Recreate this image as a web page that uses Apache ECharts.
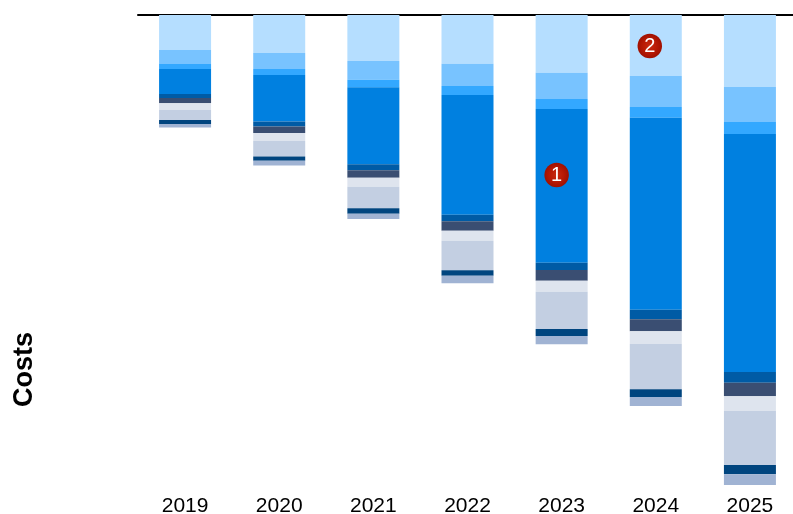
<!DOCTYPE html>
<html>
<head>
<meta charset="utf-8">
<style>html,body{margin:0;padding:0;background:#fff;overflow:hidden}#chart{width:793px;height:514px}</style>
<script src="https://cdn.jsdelivr.net/npm/echarts@6/dist/echarts.min.js"></script>
</head>
<body>
<div id="chart"></div>
<script>
// Annual costs, stacked downward from the top axis
const years = ['2019', '2020', '2021', '2022', '2023', '2024', '2025'];

const costA = [35, 38, 46, 48.7, 57.7, 61, 72];
const costB = [14, 16, 18.7, 22.3, 26.3, 31, 35];
const costC = [5, 6, 7.6, 9, 10, 10.7, 12];
const costD = [25, 46.5, 77, 119.7, 153.7, 192, 238];
const costE = [4, 5, 6, 6.6, 7.3, 9.6, 10.7];
const costF = [5.3, 6.5, 7.4, 9.4, 10.7, 12, 13.6];
const costG = [6.7, 8, 9, 10, 11, 12.7, 14.7];
const costH = [10, 15.5, 21.6, 29.6, 37.3, 45.3, 54];
const costI = [4, 4.2, 5.4, 5.4, 7, 7.7, 9.3];
const costJ = [3.5, 4.8, 5.3, 7.6, 8.3, 9, 11];

const stacks = [
  ['Cost A', costA, '#b5deff'],
  ['Cost B', costB, '#78c3ff'],
  ['Cost C', costC, '#33a8ff'],
  ['Cost D', costD, '#0080e0'],
  ['Cost E', costE, '#005ba5'],
  ['Cost F', costF, '#3a4e72'],
  ['Cost G', costG, '#dee4ee'],
  ['Cost H', costH, '#c3cfe2'],
  ['Cost I', costI, '#00457f'],
  ['Cost J', costJ, '#a0b3d3']
];

// Numbered callouts placed on the stacks
const callouts = [
  { year: '2023', depth: 160, text: '1', shift: -5 },
  { year: '2024', depth: 31, text: '2', shift: -6 }
];

const fontFamily = '"Liberation Sans", Arial, sans-serif';
const badgeFill = {
  type: 'radial', x: 0.5, y: 0.5, r: 0.5,
  colorStops: [
    { offset: 0, color: '#c92a10' },
    { offset: 0.55, color: '#b81a05' },
    { offset: 1, color: '#a01000' }
  ]
};

const chart = echarts.init(document.getElementById('chart'), null, { renderer: 'canvas' });
chart.setOption({
  animation: false,
  backgroundColor: '#ffffff',
  grid: { left: 138, width: 659, top: 15, height: 470, containLabel: false, outerBoundsMode: 'none' },
  xAxis: [
    {
      type: 'category', data: years, position: 'bottom',
      axisLine: { show: false }, axisTick: { show: false },
      axisLabel: { color: '#000', fontSize: 21, fontFamily, margin: 11, interval: 0 }
    },
    {
      type: 'category', data: years, position: 'top',
      axisLine: { show: true, onZero: false, lineStyle: { color: '#000', width: 2 } },
      axisTick: { show: false }, axisLabel: { show: false }
    }
  ],
  yAxis: {
    type: 'value', inverse: true, min: 0, max: 470,
    axisLine: { show: false }, axisTick: { show: false },
    axisLabel: { show: false }, splitLine: { show: false }
  },
  graphic: [{
    type: 'text', left: 11, top: 332, rotation: Math.PI / 2,
    style: { text: 'Costs', fontFamily, fontSize: 27, fontWeight: 'bold', fill: '#000' }
  }],
  series: stacks.map(([name, values, color]) => ({
    name, type: 'bar', stack: 'costs', data: values, barWidth: 52,
    itemStyle: { color }
  })).concat([{
    name: 'Callouts', type: 'scatter', z: 5, symbol: 'circle', symbolSize: 24.5,
    itemStyle: { color: badgeFill, opacity: 1 },
    data: callouts.map(c => ({
      value: [c.year, c.depth],
      symbolOffset: [c.shift, 0],
      label: {
        show: true, position: 'inside', formatter: c.text,
        color: '#fff', fontSize: 20, fontFamily
      }
    }))
  }])
});
</script>
</body>
</html>
